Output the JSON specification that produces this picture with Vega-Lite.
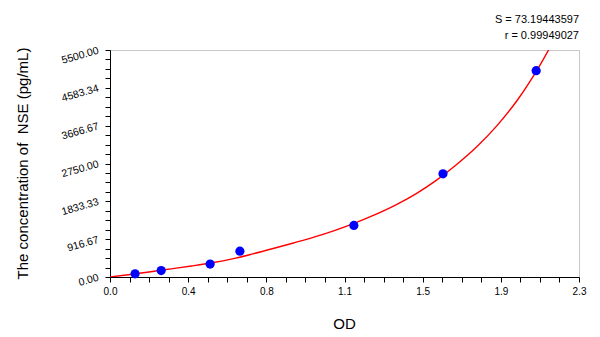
{
  "$schema": "https://vega.github.io/schema/vega-lite/v6.json",
  "width": 469,
  "height": 227,
  "autosize": {"type": "none"},
  "padding": {"left": 110, "top": 50, "right": 21, "bottom": 60},
  "background": "white",
  "config": {
    "view": {"stroke": "#c8c8c8", "strokeWidth": 1},
    "font": "Liberation Sans",
    "axis": {"grid": false, "domainColor": "black", "tickColor": "black", "labelColor": "black", "titleColor": "black", "labelFont": "Liberation Sans", "titleFont": "Liberation Sans"}
  },
  "title": {
    "text": "S = 73.19443597",
    "subtitle": "r = 0.99949027",
    "anchor": "end",
    "frame": "group",
    "font": "Liberation Sans",
    "subtitleFont": "Liberation Sans",
    "fontSize": 11,
    "subtitleFontSize": 11,
    "fontWeight": "normal",
    "color": "black",
    "subtitleColor": "black",
    "offset": 4,
    "subtitlePadding": 5
  },
  "layer": [
    {
      "data": {"values": [
        {"od": 0, "conc": 0},
        {"od": 0.1, "conc": 62},
        {"od": 0.2, "conc": 128},
        {"od": 0.3, "conc": 198},
        {"od": 0.4, "conc": 268},
        {"od": 0.5, "conc": 345},
        {"od": 0.6, "conc": 440},
        {"od": 0.7, "conc": 560},
        {"od": 0.8, "conc": 690},
        {"od": 0.9, "conc": 825},
        {"od": 1.0, "conc": 965},
        {"od": 1.1, "conc": 1125},
        {"od": 1.2, "conc": 1307},
        {"od": 1.3, "conc": 1510},
        {"od": 1.4, "conc": 1742},
        {"od": 1.5, "conc": 2015},
        {"od": 1.6, "conc": 2340},
        {"od": 1.7, "conc": 2725},
        {"od": 1.8, "conc": 3160},
        {"od": 1.9, "conc": 3680},
        {"od": 2.0, "conc": 4300},
        {"od": 2.1, "conc": 5060},
        {"od": 2.2, "conc": 5950}
      ]},
      "mark": {"type": "line", "color": "#ff0000", "strokeWidth": 1.4, "interpolate": "monotone", "clip": true},
      "encoding": {
        "x": {"field": "od", "type": "quantitative", "scale": {"domain": [0, 2.3], "nice": false, "zero": false},
          "axis": {"values": [0, 0.09583333, 0.19166667, 0.2875, 0.38333333, 0.47916667, 0.575, 0.67083333, 0.76666667, 0.8625, 0.95833333, 1.05416667, 1.15, 1.24583333, 1.34166667, 1.4375, 1.53333333, 1.62916667, 1.725, 1.82083333, 1.91666667, 2.0125, 2.10833333, 2.20416667, 2.3],
            "tickCount": 200,
            "labelExpr": "indexof([0, 0.38333333, 0.76666667, 1.15, 1.53333333, 1.91666667, 2.3], datum.value) >= 0 ? format(datum.value, '.1f') : ''",
            "labelFontSize": 10, "tickSize": 5, "labelPadding": 4, "labelFlush": false, "labelOverlap": false,
            "title": "OD", "titleFontSize": 15, "titleFontWeight": "normal", "titleX": 234, "titleY": 46, "titleBaseline": "middle", "titleAlign": "center"}},
        "y": {"field": "conc", "type": "quantitative", "scale": {"domain": [0, 5500], "nice": false, "zero": true},
          "axis": {"values": [0, 229.17, 458.33, 687.5, 916.67, 1145.83, 1375, 1604.17, 1833.33, 2062.5, 2291.67, 2520.83, 2750, 2979.17, 3208.33, 3437.5, 3666.67, 3895.83, 4125, 4354.17, 4583.34, 4812.5, 5041.67, 5270.83, 5500],
            "tickCount": 200,
            "labelExpr": "indexof([0, 916.67, 1833.33, 2750, 3666.67, 4583.34, 5500], datum.value) >= 0 ? format(datum.value, '.2f') : ''",
            "labelFontSize": 10.5, "labelAngle": -16, "labelAlign": "right", "labelBaseline": "middle", "tickSize": 5, "labelPadding": 7, "labelFlush": false, "labelOverlap": false,
            "title": "The concentration of\u00a0 NSE (pg/mL)", "titleFontSize": 15, "titleFontWeight": "normal", "titleAngle": -90, "titleX": -88, "titleY": 113, "titleBaseline": "middle", "titleAlign": "center"}}
      }
    },
    {
      "data": {"values": [
        {"od": 0.123, "conc": 78.13},
        {"od": 0.251, "conc": 156.25},
        {"od": 0.491, "conc": 312.5},
        {"od": 0.637, "conc": 625},
        {"od": 1.196, "conc": 1250},
        {"od": 1.633, "conc": 2500},
        {"od": 2.09, "conc": 5000}
      ]},
      "mark": {"type": "point", "shape": "circle", "filled": true, "color": "#0000ff", "opacity": 1, "size": 85},
      "encoding": {
        "x": {"field": "od", "type": "quantitative"},
        "y": {"field": "conc", "type": "quantitative"}
      }
    },
    {
      "mark": {"type": "rule", "color": "black", "strokeWidth": 1},
      "encoding": {
        "x": {"datum": 2.3, "type": "quantitative"}
      }
    }
  ]
}
